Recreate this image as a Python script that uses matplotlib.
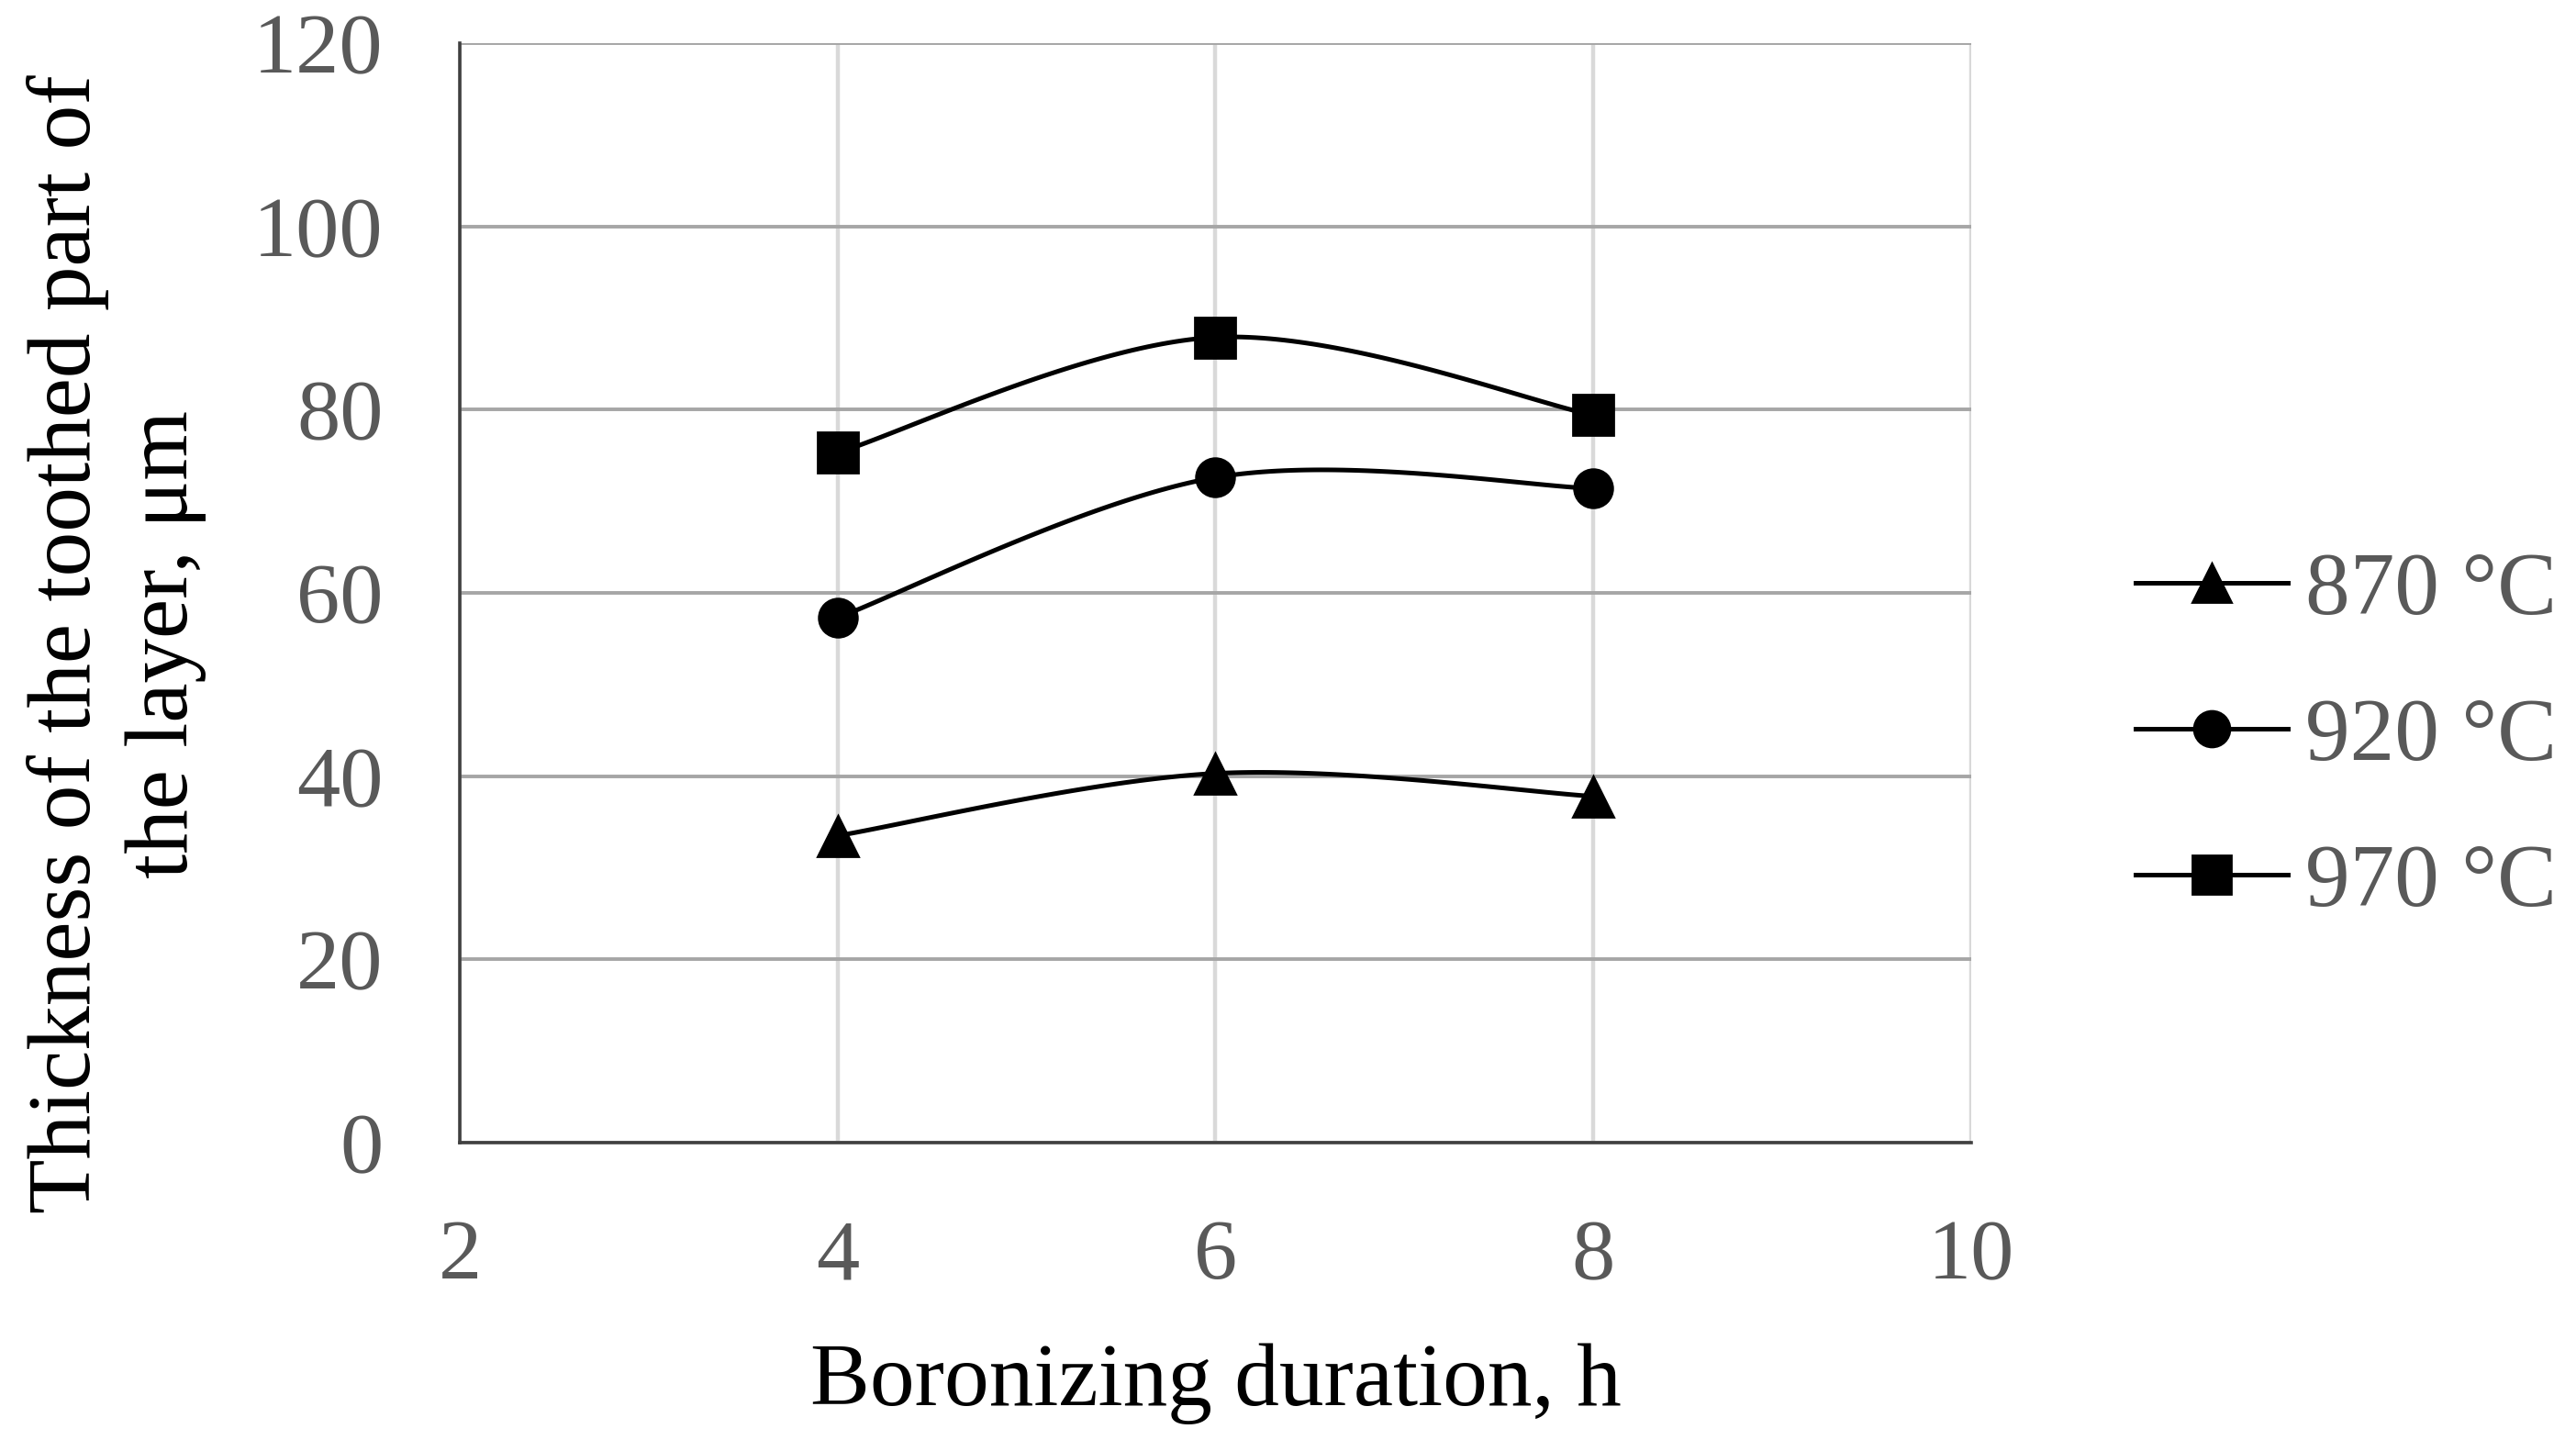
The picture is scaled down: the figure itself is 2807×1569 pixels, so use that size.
import numpy as np
import matplotlib
matplotlib.use('Agg')
import matplotlib.pyplot as plt

plt.rcParams['font.family'] = ['Liberation Serif', 'DejaVu Serif']

hours = [4, 6, 8]
t870 = [33.5, 40.3, 37.8]
t920 = [57.3, 72.6, 71.4]
t970 = [75.3, 87.9, 79.4]
labels = ['870 °C', '920 °C', '970 °C']
markers = ['^', 'o', 's']


def smooth(xs, ys, n=60):
    # Excel-like smoothed line: cubic Bezier with Catmull-Rom control points
    p = np.column_stack([xs, ys]).astype(float)
    p = np.vstack([p[0], p, p[-1]])
    out = []
    for i in range(1, len(p) - 2):
        p0, p1, p2, p3 = p[i - 1], p[i], p[i + 1], p[i + 2]
        c1 = p1 + (p2 - p0) / 6
        c2 = p2 - (p3 - p1) / 6
        t = np.linspace(0, 1, n)[:, None]
        seg = ((1 - t) ** 3) * p1 + 3 * ((1 - t) ** 2) * t * c1 + 3 * (1 - t) * t ** 2 * c2 + t ** 3 * p2
        out.append(seg)
    out = np.vstack(out)
    return out[:, 0], out[:, 1]


fig = plt.figure(figsize=(14.035, 7.845), dpi=200)
ax = fig.add_axes([0.1785, 0.2065, 0.5867, 0.7635])

for ys, lab, m in zip([t870, t920, t970], labels, markers):
    sx, sy = smooth(hours, ys)
    ax.plot(sx, sy, color='black', lw=1.8, zorder=3)
    ax.plot(hours, ys, linestyle='none', marker=m, ms=16 if m != 'o' else 15,
            color='black', zorder=4)
    ax.plot([], [], color='black', lw=1.8, marker=m, ms=15 if m != 'o' else 14,
            label=lab)

ax.set_xlim(2, 10)
ax.set_ylim(0, 120)
ax.set_xticks([2, 4, 6, 8, 10])
ax.set_yticks(range(0, 121, 20))

ax.xaxis.grid(True, color='#d9d9d9', lw=1.6, zorder=0)
ax.yaxis.grid(True, color='#a6a6a6', lw=1.4, zorder=0)
ax.set_axisbelow(True)
ax.tick_params(length=0, labelsize=34, labelcolor='#595959', pad=30)

for s in ['top', 'right']:
    ax.spines[s].set_visible(False)
ax.spines['left'].set_color('#404040')
ax.spines['left'].set_linewidth(1.3)
ax.spines['bottom'].set_color('#404040')
ax.spines['bottom'].set_linewidth(1.3)

ax.set_xlabel('Boronizing duration, h', fontsize=35, color='black', labelpad=18)
fig.text(0.0453, 0.5525, 'Thickness of the toothed part of\nthe layer, μm',
         rotation=90, ha='center', va='center', fontsize=35, color='black',
         linespacing=1.25, multialignment='center')

fig.legend(loc='center left', bbox_to_anchor=(0.798, 0.487), frameon=False,
           fontsize=35, labelcolor='#595959', handlelength=1.7,
           handletextpad=0.2, labelspacing=0.72)

fig.savefig('out.png', dpi=200, facecolor='white')
